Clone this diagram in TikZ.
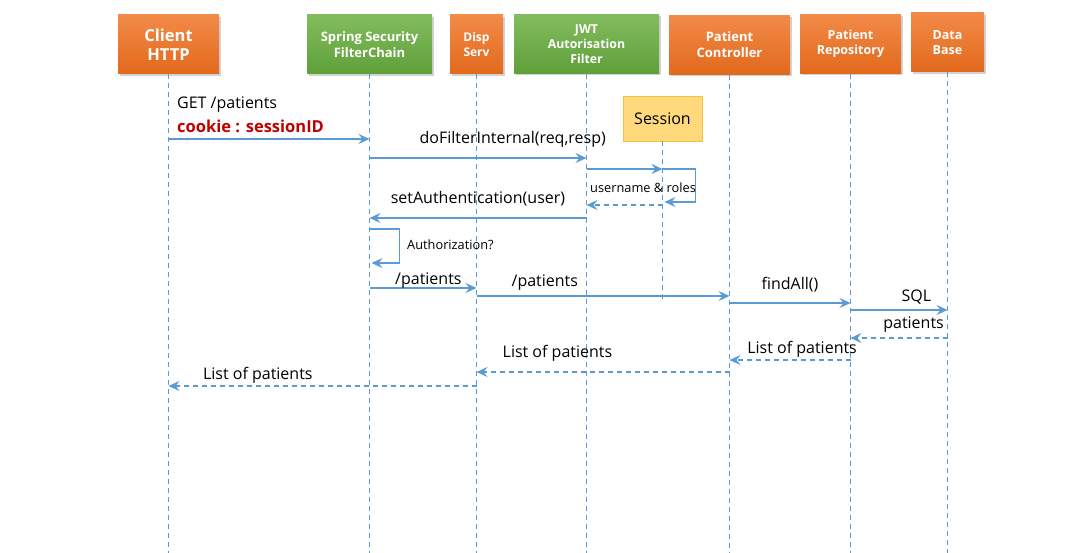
\documentclass[tikz,border=0pt]{standalone}
\usepackage{fontspec}
\setmainfont{Open Sans}
\usetikzlibrary{arrows.meta, shadows, calc}
\definecolor{msgblue}{HTML}{5B9BD5}
\definecolor{orangetop}{HTML}{F28A48}
\definecolor{orangebot}{HTML}{E2691C}
\definecolor{greentop}{HTML}{82BC5E}
\definecolor{greenbot}{HTML}{5FA03A}
\definecolor{sessionfill}{HTML}{FFD97C}
\definecolor{sessionline}{HTML}{F5C140}
\definecolor{cookiered}{HTML}{C00000}
\tikzset{>={Stealth[length=11pt,width=10pt,inset=4pt]}}

\begin{document}
\begin{tikzpicture}[x=1pt,y=-1pt,
    actor/.style={minimum height=59pt, inner sep=0pt, align=center, text=white,
        drop shadow={opacity=0.35, shadow xshift=1.5pt, shadow yshift=-2pt}},
    orangebox/.style={actor, top color=orangetop, bottom color=orangebot},
    greenbox/.style={actor, top color=greentop, bottom color=greenbot},
    lifeline/.style={msgblue, line width=1pt, dash pattern=on 5pt off 4pt},
    msg/.style={->, msgblue, line width=1.3pt},
    reply/.style={->, msgblue, line width=1.3pt, dash pattern=on 5pt off 4pt},
    label/.style={font=\fontsize{16}{19}\selectfont, text=black, inner sep=1pt},
    smalllabel/.style={font=\fontsize{12.8}{15}\selectfont, text=black, inner sep=1pt}]
    \useasboundingbox (0,0) rectangle (1081,553);

    %the actors along the top
    \node[orangebox, minimum width=101pt, font=\fontsize{16.5}{19.5}\selectfont\bfseries] (client) at (168.5,44.5) {Client\\HTTP};
    \node[greenbox, minimum width=125pt, font=\fontsize{13}{15.5}\selectfont\bfseries] (spring) at (369.5,44.5) {Spring Security\\FilterChain};
    \node[orangebox, minimum width=53pt, font=\fontsize{12}{14.5}\selectfont\bfseries] (disp) at (476.5,44.5) {Disp\\Serv};
    \node[greenbox, minimum width=145pt, font=\fontsize{12.3}{15}\selectfont\bfseries] (jwt) at (586.5,44) {JWT\\Autorisation\\Filter};
    \node[orangebox, minimum width=121pt, font=\fontsize{13}{16}\selectfont\bfseries] (ctrl) at (729.5,45) {Patient\\Controller};
    \node[orangebox, minimum width=101pt, font=\fontsize{12.5}{15}\selectfont\bfseries] (repo) at (850.5,44) {Patient\\Repository};
    \node[orangebox, minimum width=73pt, font=\fontsize{12.5}{15}\selectfont\bfseries] (db) at (947.5,42.5) {Data\\Base};
    \node[minimum width=79pt, minimum height=45pt, inner sep=0pt, fill=sessionfill, draw=sessionline,
        font=\fontsize{16}{19}\selectfont] (session) at (662.5,118.5) {Session};

    %lifelines
    \foreach \who in {client, spring, disp, jwt, ctrl, repo, db}
    {
        \draw[lifeline] (\who.south) -- (\who.south |- 0,553);
    }
    \draw[lifeline] (session.south) -- (session.south |- 0,303);

    %request
    \node[label, anchor=west] (get) at (176,105) {GET /patients};
    \node[label, anchor=west, text=cookiered, font=\fontsize{16.5}{19}\selectfont\bfseries] (cookie) at (176,126) {cookie : sessionID};
    \draw[msg] (client.south |- 0,139) -- (spring.south |- 0,139);

    %jwt filter
    \draw[msg] (spring.south |- 0,158) -- (jwt.south |- 0,158) node[label, pos=0.66, above=9pt] (dofilter) {doFilterInternal(req,resp)};
    \draw[msg] (jwt.south |- 0,169) -- (session.south |- 0,169);
    \draw[msg] (session.south |- 0,169) -- ++(33,0) -- ++(0,33) -- ++(-31,0);
    \draw[reply] (session.south |- 0,205) -- (jwt.south |- 0,205);
    \node[smalllabel, anchor=west] (roles) at (589,188) {username \& roles};
    \draw[msg] (jwt.south |- 0,218) -- (spring.south |- 0,218) node[label, pos=0.5, above=10pt] (setauth) {setAuthentication(user)};

    %authorization
    \draw[msg] (spring.south |- 0,229) -- ++(30,0) -- ++(0,34) -- ++(-28,0);
    \node[smalllabel, anchor=west] (authz) at (406,245) {Authorization?};

    %down to the database
    \draw[msg] (spring.south |- 0,288) -- (disp.south |- 0,288) node[label, pos=0.55, above=-2pt] (pat1) {/patients};
    \draw[msg] (disp.south |- 0,296) -- (ctrl.south |- 0,296) node[label, pos=0.27, above=4pt] (pat2) {/patients};
    \draw[msg] (ctrl.south |- 0,303) -- (repo.south |- 0,303) node[label, pos=0.5, above=9pt] (findall) {findAll()};
    \draw[msg, line width=1.8pt] (repo.south |- 0,310) -- (db.south |- 0,310) node[label, pos=0.68, above=4pt] (sql) {SQL};

    %and back
    \draw[reply] (db.south |- 0,338) -- (repo.south |- 0,338) node[label, pos=0.35, above=4pt] (pat3) {patients};
    \draw[reply] (repo.south |- 0,360) -- (ctrl.south |- 0,360) node[label, pos=0.4, above=1pt] (list1) {List of patients};
    \draw[reply] (ctrl.south |- 0,372) -- (disp.south |- 0,372) node[label, pos=0.68, above=9pt] (list2) {List of patients};
    \draw[reply] (disp.south |- 0,386) -- (client.south |- 0,386) node[label, pos=0.71, above=1pt] (list3) {List of patients};
\end{tikzpicture}
\end{document}
